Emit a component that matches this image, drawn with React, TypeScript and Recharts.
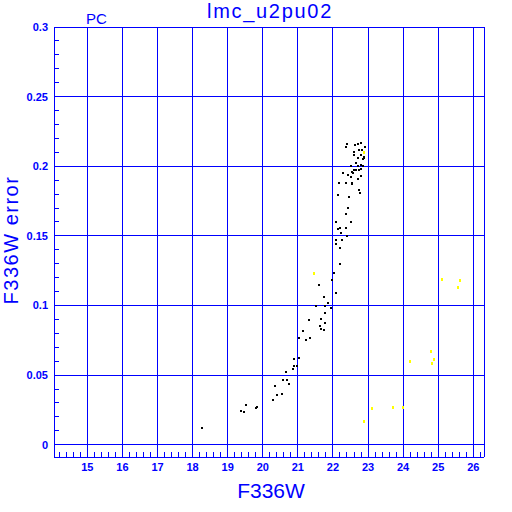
import React from 'react';
import {
  ScatterChart,
  Scatter,
  XAxis,
  YAxis,
  ReferenceLine,
} from 'recharts';

// black points: F336W magnitude vs error
const magBlack = [
  22.40, 22.36, 22.63, 22.71, 22.79, 22.91, 22.74, 22.84, 22.60, 22.60,
  22.79, 22.89, 22.72, 22.89, 22.87, 22.67, 22.79, 22.72, 22.51, 22.85,
  22.65, 22.74, 22.79, 22.54, 22.60, 22.28, 22.43, 22.58, 22.79, 22.51,
  22.71, 22.17, 22.36, 22.54, 22.54, 22.74, 22.76, 22.15, 22.45, 22.43,
  22.36, 22.08, 22.51, 22.19, 22.36, 22.15, 22.22, 22.40, 22.08, 22.25,
  22.08, 22.20, 22.20, 22.03, 21.60, 21.97, 22.09, 21.75, 21.87, 21.52,
  21.77, 21.95, 21.77, 21.32, 21.66, 21.77, 21.63, 21.66, 21.75, 21.15,
  21.03, 21.35, 21.23, 21.03, 20.89, 20.89, 20.98, 20.86, 20.66, 20.58,
  20.69, 20.75, 20.36, 20.54, 20.41, 20.28, 19.52, 19.83, 19.80, 19.37,
  19.47, 18.27,
];
const errBlack = [
  0.216, 0.214, 0.215, 0.216, 0.217, 0.214, 0.212, 0.212, 0.210, 0.208,
  0.208, 0.207, 0.206, 0.206, 0.205, 0.202, 0.201, 0.200, 0.200, 0.200,
  0.197, 0.197, 0.198, 0.196, 0.197, 0.195, 0.194, 0.195, 0.193, 0.192,
  0.191, 0.188, 0.188, 0.188, 0.187, 0.183, 0.181, 0.179, 0.178, 0.170,
  0.166, 0.160, 0.160, 0.156, 0.156, 0.155, 0.152, 0.150, 0.147, 0.147,
  0.144, 0.141, 0.130, 0.123, 0.115, 0.118, 0.109, 0.106, 0.102, 0.0993,
  0.0993, 0.0979, 0.0943, 0.0893, 0.0900, 0.0871, 0.0850, 0.0828, 0.0821, 0.0814,
  0.0763, 0.0763, 0.0749, 0.0620, 0.0613, 0.0567, 0.0562, 0.0541, 0.0519, 0.0462,
  0.0462, 0.0433, 0.0419, 0.0368, 0.0354, 0.0318, 0.0282, 0.0273, 0.0261, 0.0239,
  0.0232, 0.0120,
];

// yellow points
const magYellow = [22.89, 21.46, 22.89, 23.11, 23.70, 23.99, 25.11, 25.62, 25.57, 24.79, 24.88, 24.82, 24.19];
const errYellow = [0.210, 0.123, 0.0170, 0.0261, 0.0271, 0.0271, 0.119, 0.118, 0.113, 0.0668, 0.0610, 0.0582, 0.0596];

const xMajor = [15, 16, 17, 18, 19, 20, 21, 22, 23, 24, 25, 26];
const yMajor = [0, 0.05, 0.1, 0.15, 0.2, 0.25, 0.3];

const xMinor = Array.from({ length: 61 }, (_, i) => +(14.2 + i * 0.2).toFixed(1));
const yMinor = Array.from({ length: 31 }, (_, i) => +(i * 0.01).toFixed(2));

const blackData = magBlack.map((x, i) => ({ x, y: errBlack[i] }));
const yellowData = magYellow.map((x, i) => ({ x, y: errYellow[i] }));

const BLUE = '#0000ff';
const tickStyle = { fill: BLUE, fontSize: 11, fontWeight: 'bold', fontFamily: 'Liberation Sans' };
const X_DOMAIN: [number, number] = [14.05, 26.305];
const Y_DOMAIN: [number, number] = [-0.0088, 0.3];

const isMult = (v: number, step: number) => Math.abs(v / step - Math.round(v / step)) < 1e-6;

const BlackDot = (p: any) => <rect x={p.cx - 1} y={p.cy - 1} width={2} height={2} fill="#000000" />;
const YellowDot = (p: any) => <rect x={p.cx - 1} y={p.cy - 1.5} width={2} height={3} fill="#ffff00" />;

export default function App() {
  return (
    <div style={{ position: 'absolute', left: 0, top: 0, width: 512, height: 512, background: '#fff', shapeRendering: 'crispEdges' }}>
      {/* plot area: x 54..484, y 27..457 */}
      <ScatterChart width={512} height={512} margin={{ top: 17, right: 18, bottom: 25, left: 24 }}>
        <XAxis
          xAxisId="b"
          type="number"
          dataKey="x"
          domain={X_DOMAIN}
          allowDataOverflow
          ticks={xMinor}
          interval={0}
          height={30}
          tickSize={-5}
          tickMargin={11}
          stroke={BLUE}
          tick={tickStyle}
          tickFormatter={(v: number) => (isMult(v, 1) ? String(v) : '')}
        />
        <XAxis
          xAxisId="t"
          orientation="top"
          type="number"
          dataKey="x"
          domain={X_DOMAIN}
          allowDataOverflow
          ticks={xMinor}
          interval={0}
          height={10}
          tickSize={-5}
          stroke={BLUE}
          tick={false}
        />
        <YAxis
          yAxisId="l"
          type="number"
          dataKey="y"
          domain={Y_DOMAIN}
          allowDataOverflow
          ticks={yMinor}
          interval={0}
          width={30}
          tickSize={-5}
          tickMargin={11}
          stroke={BLUE}
          tick={tickStyle}
          tickFormatter={(v: number) => (isMult(v, 0.05) ? String(+v.toFixed(2)) : '')}
        />
        <YAxis
          yAxisId="r"
          orientation="right"
          type="number"
          dataKey="y"
          domain={Y_DOMAIN}
          allowDataOverflow
          ticks={yMinor}
          interval={0}
          width={10}
          tickSize={-5}
          stroke={BLUE}
          tick={false}
        />
        {xMajor.map((v) => (
          <ReferenceLine key={'x' + v} xAxisId="b" yAxisId="l" x={v} stroke={BLUE} strokeWidth={1} />
        ))}
        {yMajor.map((v) => (
          <ReferenceLine key={'y' + v} xAxisId="b" yAxisId="l" y={v} stroke={BLUE} strokeWidth={1} />
        ))}
        <Scatter data={blackData} xAxisId="b" yAxisId="l" shape={BlackDot} isAnimationActive={false} />
        <Scatter data={yellowData} xAxisId="b" yAxisId="l" shape={YellowDot} isAnimationActive={false} />
      </ScatterChart>
      <svg width={512} height={512} style={{ position: 'absolute', left: 0, top: 0, pointerEvents: 'none' }}>
        <g fill={BLUE} fontFamily="Liberation Sans">
          <text x={270} y={18} textAnchor="middle" fontSize={20} letterSpacing={1.7}>lmc_u2pu02</text>
          <text x={86} y={24} fontSize={15}>PC</text>
          <text x={271} y={498} textAnchor="middle" fontSize={21}>F336W</text>
          <text x={18} y={240} textAnchor="middle" fontSize={20} letterSpacing={1.5} transform="rotate(-90 18 240)">
            F336W error
          </text>
        </g>
      </svg>
    </div>
  );
}
